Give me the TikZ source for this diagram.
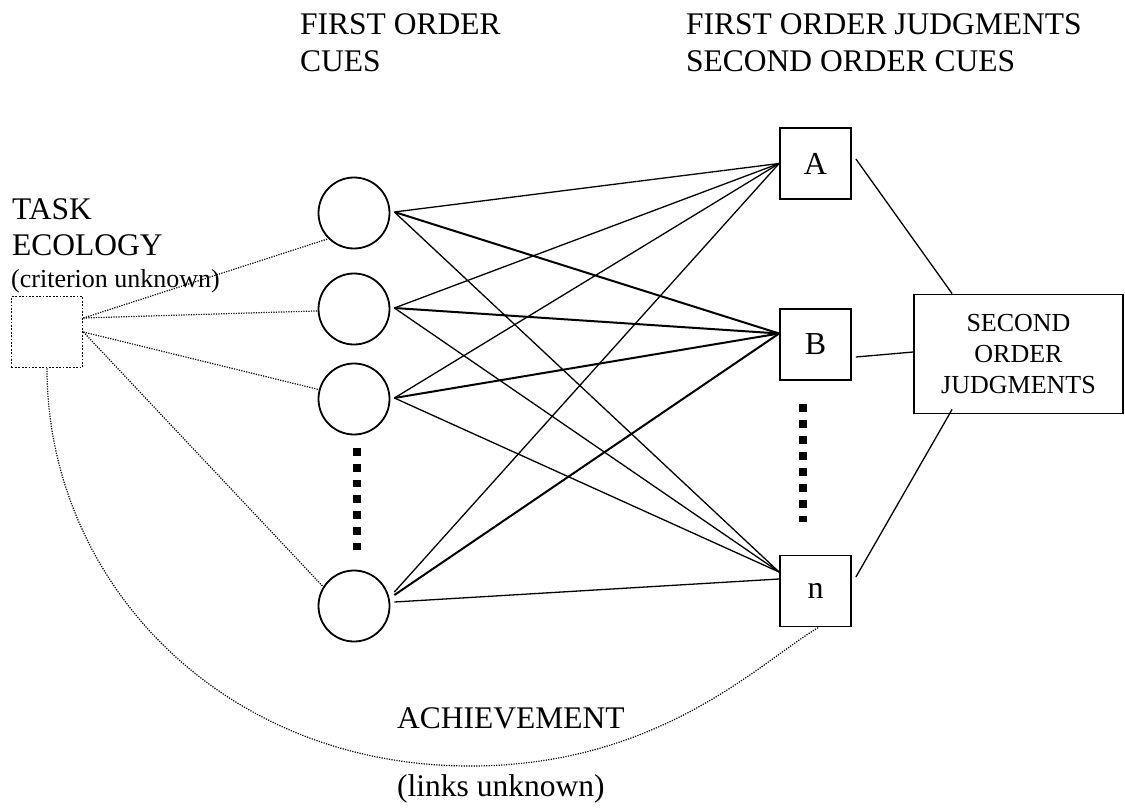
\documentclass[tikz,border=0pt]{standalone}
\usepackage{fontspec}
\setmainfont{Liberation Serif}
\begin{document}
\begin{tikzpicture}[x=1pt,y=-1pt,
  big/.style={font=\fontsize{31.5}{37}\selectfont, inner sep=0pt},
  mid/.style={font=\fontsize{26}{31}\selectfont, inner sep=0pt},
  cue/.style={circle, draw, line width=1.8pt, minimum size=71pt, inner sep=0pt},
  judge/.style={rectangle, draw, line width=1.8pt, minimum size=71pt, inner sep=0pt,
                font=\fontsize{32}{37}\selectfont},
  link/.style={line width=1.3pt},
  strong/.style={line width=2pt},
  faint/.style={line width=1.2pt, dash pattern=on 1.2pt off 1.3pt},
  ellipsis/.style={line width=8pt}
]
\fill[white] (0,0) rectangle (1125,808);
\useasboundingbox (0,0) rectangle (1125,808);

% column headings
\node[big, anchor=base west] (h1a) at (300,35) {FIRST ORDER};
\node[big, anchor=base west] (h1b) at (300,72) {CUES};
\node[big, anchor=base west] (h2a) at (686,35) {FIRST ORDER JUDGMENTS};
\node[big, anchor=base west] (h2b) at (686,72) {SECOND ORDER CUES};

% task ecology
\node[big, anchor=base west] (t1) at (12,219) {TASK};
\node[big, anchor=base west] (t2) at (12,255) {ECOLOGY};
\node[mid, anchor=base west] (t3) at (11,287) {(criterion unknown)};
\node[draw, line width=1.8pt, dash pattern=on 1.8pt off 1.6pt, minimum size=71pt, inner sep=0pt] (T) at (47,332) {};

% first order cues
\node[cue] (c1) at (354,213) {};
\node[cue] (c2) at (354,309) {};
\node[cue] (c3) at (354,399) {};
\node[cue] (c4) at (354,606) {};

% first order judgments
\node[judge] (A) at (815.5,163.5) {A};
\node[judge] (B) at (815.5,344.5) {B};
\node[judge] (n) at (815.5,591) {n};

% second order judgments
\node[draw, line width=1.8pt, minimum width=209pt, minimum height=119pt, mid, align=center] (S) at (1018.5,354) {SECOND\\ORDER\\JUDGMENTS};

% ellipsis marks
\draw[ellipsis, dash pattern=on 7.9pt off 7.9pt] ([shift={(3pt,-12.5pt)}]c3.south) -- ([shift={(3pt,19.5pt)}]c4.north);
\draw[ellipsis, dash pattern=on 8pt off 8pt] ([shift={(-12.5pt,-23pt)}]B.south) -- ([shift={(-12.5pt,32.5pt)}]n.north);

% ports
\coordinate (o1) at ([shift={(4pt,1pt)}]c1.east);
\coordinate (o2) at ([shift={(4pt,1pt)}]c2.east);
\coordinate (o3) at ([shift={(4pt,1pt)}]c3.east);
\coordinate (o4a) at ([shift={(4pt,14pt)}]c4.east);
\coordinate (o4b) at ([shift={(4pt,11pt)}]c4.east);
\coordinate (o4n) at ([shift={(4pt,4pt)}]c4.east);
\coordinate (iA) at (A.west);
\coordinate (iB) at ([yshift=11pt]B.west);
\coordinate (in) at ([yshift=19pt]n.west);
\coordinate (in2) at ([yshift=12pt]n.west);

% cue utilisation links
\draw[link] (o1) -- (iA);
\draw[strong] (o1) -- (iB);
\draw[link] (o1) -- (in);
\draw[link] (o2) -- (iA);
\draw[strong] (o2) -- (iB);
\draw[link] (o2) -- (in);
\draw[link] (o3) -- (iA);
\draw[strong] (o3) -- (iB);
\draw[link] (o3) -- (in);
\draw[link] (o4a) -- (iA);
\draw[strong] (o4b) -- (iB);
\draw[link] (o4n) -- (in2);

% judgments feeding second order
\draw[link] ([shift={(4pt,4.5pt)}]A.east) -- ([xshift=39pt]S.north west);
\draw[link] ([shift={(4pt,-12.5pt)}]B.east) -- ([yshift=2pt]S.west);
\draw[link] ([shift={(4pt,14pt)}]n.east) -- ([shift={(39pt,5pt)}]S.south west);

% ecological validities (unknown)
\coordinate (Tu) at ([yshift=14pt]T.east);
\draw[faint] (Tu) -- (c1.225);
\draw[faint] (Tu) -- (c2.183);
\draw[faint] (T.east) -- (c3.165);
\draw[faint] (T.east) -- (c4.148);

% achievement
\draw[faint] (T.south) .. controls (47,580) and (220,766) .. (470,766)
  .. controls (660,766) and (760,662) .. ([xshift=3pt]n.south);
\node[big, anchor=base west] (ach) at (397,728) {ACHIEVEMENT};
\node[big, anchor=base west] (lu) at (397,796) {(links unknown)};
\end{tikzpicture}
\end{document}
